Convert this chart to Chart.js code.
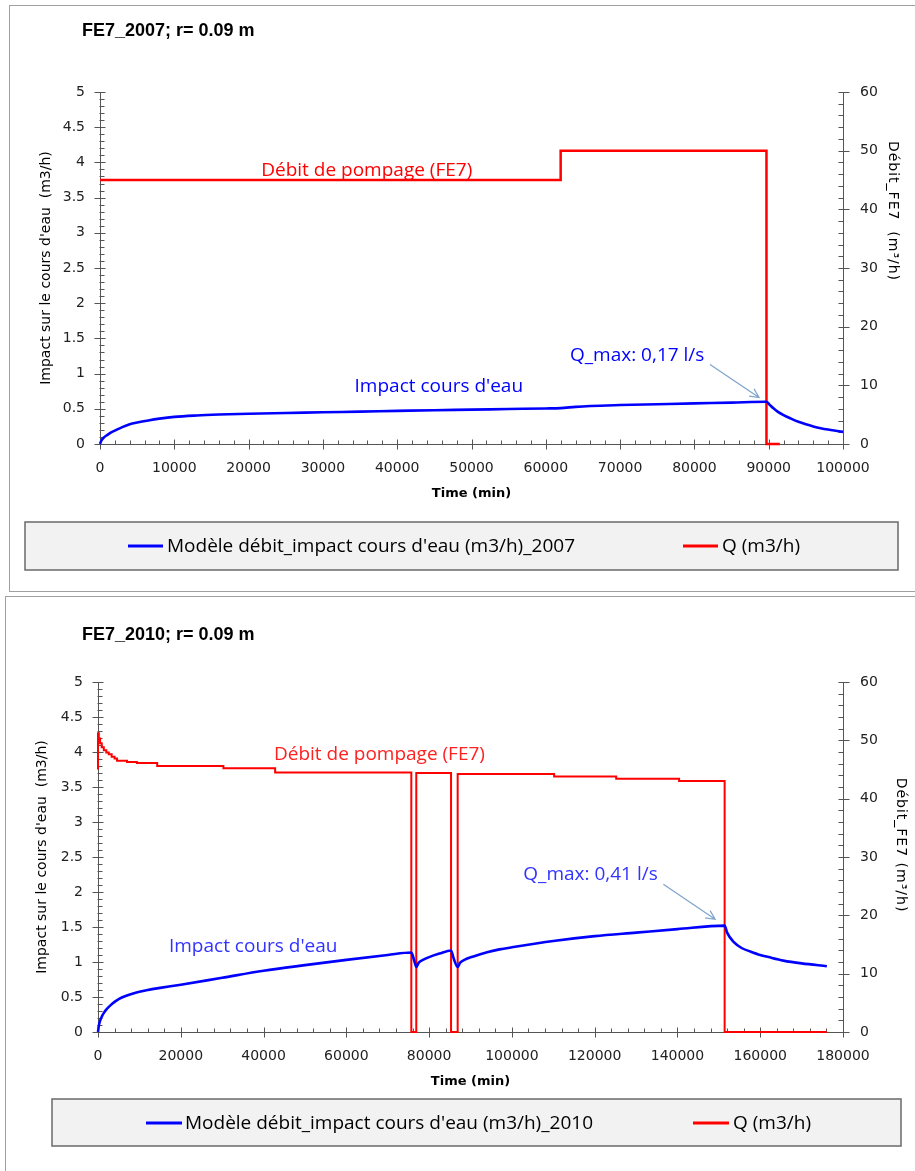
<!DOCTYPE html>
<html><head><meta charset="utf-8">
<script src="https://cdn.jsdelivr.net/npm/chart.js@4.4.1/dist/chart.umd.min.js"></script>
<style>
html,body{margin:0;padding:0;background:#fff;width:915px;height:1171px;overflow:hidden;}
.frame{position:absolute;border:1px solid #a0a0a0;box-sizing:border-box;}
canvas{position:absolute;}
</style></head><body>
<div class="frame" style="left:9px;top:5px;width:930px;height:587px"></div>
<div class="frame" style="left:5px;top:596px;width:930px;height:620px"></div>
<canvas id="c1" width="905" height="583" style="left:10px;top:6px;width:905px;height:583px"></canvas>
<canvas id="c2" width="909" height="574" style="left:6px;top:597px;width:909px;height:574px"></canvas>
<script>
// ---------- DATA ----------
const X_TICKS_2007 = [0,10000,20000,30000,40000,50000,60000,70000,80000,90000,100000];
const X_TICKS_2010 = [0,20000,40000,60000,80000,100000,120000,140000,160000,180000];
const Y_LEFT_TICKS = [0,0.5,1,1.5,2,2.5,3,3.5,4,4.5,5];
const Y_RIGHT_TICKS = [0,10,20,30,40,50,60];

// 2007 - impact (m3/h)
const T07_IMPACT = [0,200,500,1000,1500,2000,3000,4000,5000,6500,8000,10000,13000,16000,20000,25000,30000,35000,40000,45000,50000,55000,60000,62000,64000,66000,70000,75000,80000,85000,89700,90100,90600,91200,92000,93000,94000,95000,96000,97000,98000,99000,100000];
const V07_IMPACT = [0,0.05,0.09,0.13,0.165,0.19,0.24,0.28,0.305,0.335,0.36,0.385,0.405,0.418,0.43,0.44,0.45,0.46,0.47,0.48,0.488,0.497,0.505,0.51,0.528,0.54,0.553,0.565,0.577,0.588,0.6,0.56,0.51,0.46,0.41,0.36,0.315,0.28,0.25,0.225,0.205,0.188,0.172];
// 2007 - Q (m3/h), value holds from each time until the next
const T07_Q = [0,62000,89700,91500];
const V07_Q = [45,50,0,0];

// 2010 - impact (m3/h)
const T10_IMPACT = [0,200,500,1000,1500,2000,3000,4000,5000,6500,8500,10000,12000,15000,20000,30000,40000,50000,60000,70000,75700,76000,76400,76900,77500,78500,80000,82500,85300,85600,86000,86900,87500,88500,90700,94000,97000,100000,110000,120000,130000,140000,151400,152000,153500,155500,157600,160000,162000,165600,170000,176100];
const V10_IMPACT = [0,0.09,0.16,0.23,0.28,0.32,0.38,0.43,0.47,0.51,0.55,0.575,0.6,0.63,0.675,0.775,0.875,0.955,1.03,1.1,1.135,1.1,1.02,0.93,0.99,1.03,1.07,1.12,1.165,1.12,1.04,0.93,0.99,1.03,1.08,1.14,1.18,1.21,1.3,1.37,1.42,1.47,1.52,1.42,1.29,1.2,1.15,1.1,1.07,1.02,0.98,0.94];
// 2010 - Q (m3/h)
const T10_Q = [0,0,200,500,900,1400,2000,2600,3300,4000,4600,7000,9400,14300,30300,42800,75700,76900,85300,86900,110200,125200,140400,151400,176100];
const V10_Q = [45,51.2,50.3,49.5,48.8,48.3,47.9,47.6,47.2,46.9,46.5,46.3,46.1,45.6,45.2,44.5,0,44.4,0,44.25,43.8,43.4,43.05,0,0];

// ---------- STYLE ----------
const AXIS = '#555';
const TICK_FONT = {family:'DejaVu Sans', size:14};
const ANN_FONT = '19px "Open Sans"';

function pts(t, v){ return t.map((x,i)=>({x:x, y:v[i]})); }

function makeDecor(c){
  return {
    id:'decor',
    beforeDatasetsDraw(chart){
      const ctx = chart.ctx, s = chart.scales;
      ctx.save(); ctx.strokeStyle = AXIS; ctx.lineWidth = 1;
      ctx.beginPath();
      const ay = Math.round(s.x.top) + 0.5;
      for (let k = 0; k * c.xMinor <= c.xMax + 1e-6; k++){
        const v = k * c.xMinor;
        const px = Math.round(s.x.getPixelForValue(v)) + 0.5;
        if (k % c.xPer === 0){ ctx.moveTo(px, ay-5); ctx.lineTo(px, ay+5); }
        else { ctx.moveTo(px, ay-4); ctx.lineTo(px, ay); }
      }
      const lx = Math.round(s.y.right) - 0.5;
      for (let k = 0; k <= 50; k++){
        const py = Math.round(s.y.getPixelForValue(k * 0.1)) + 0.5;
        if (k % 5 === 0){ ctx.moveTo(lx-5, py); ctx.lineTo(lx+6, py); }
        else { ctx.moveTo(lx, py); ctx.lineTo(lx+5, py); }
      }
      const rx = Math.round(s.y2.left) + 0.5;
      for (let v = 0; v <= 60; v += 2){
        const py = Math.round(s.y2.getPixelForValue(v)) + 0.5;
        if (v % 10 === 0){ ctx.moveTo(rx-5, py); ctx.lineTo(rx+6, py); }
        else { ctx.moveTo(rx-5, py); ctx.lineTo(rx, py); }
      }
      ctx.stroke(); ctx.restore();
    },
    afterDraw(chart){
      const ctx = chart.ctx, s = chart.scales;
      ctx.save();
      ctx.font = 'bold 18px "Liberation Sans"'; ctx.fillStyle = '#000';
      ctx.textAlign = 'left'; ctx.textBaseline = 'alphabetic';
      ctx.fillText(c.title, c.titleX, c.titleY);
      ctx.save();
      ctx.translate(c.rtX, c.rtY); ctx.rotate(Math.PI/2);
      ctx.font = '14px "DejaVu Sans"'; ctx.fillStyle = '#000';
      try { ctx.letterSpacing = '1px'; } catch(e) {}
      ctx.textAlign = 'center'; ctx.textBaseline = 'middle';
      ctx.fillText(c.rightTitle, 0, 0);
      ctx.restore();
      ctx.font = ANN_FONT; ctx.textAlign = 'center'; ctx.textBaseline = 'alphabetic';
      c.ann.forEach(a => {
        ctx.fillStyle = a.color;
        ctx.fillText(a.text, s.x.getPixelForValue(a.x), s.y.getPixelForValue(a.y));
      });
      const a = c.arrow;
      const x1 = s.x.getPixelForValue(a.x1), y1 = s.y.getPixelForValue(a.y1);
      const x2 = s.x.getPixelForValue(a.x2), y2 = s.y.getPixelForValue(a.y2);
      const ang = Math.atan2(y2-y1, x2-x1);
      ctx.strokeStyle = '#7ea3cc'; ctx.lineWidth = 1.2;
      ctx.beginPath(); ctx.moveTo(x1,y1); ctx.lineTo(x2,y2);
      ctx.moveTo(x2 - 10*Math.cos(ang-0.45), y2 - 10*Math.sin(ang-0.45));
      ctx.lineTo(x2,y2);
      ctx.lineTo(x2 - 10*Math.cos(ang+0.45), y2 - 10*Math.sin(ang+0.45));
      ctx.stroke();
      const L = c.legend;
      ctx.fillStyle = '#f2f2f2'; ctx.fillRect(L.x, L.y, L.w, L.h);
      ctx.strokeStyle = '#6a6a6a'; ctx.lineWidth = 1.5; ctx.strokeRect(L.x, L.y, L.w, L.h);
      ctx.font = ANN_FONT; ctx.textAlign = 'left'; ctx.textBaseline = 'middle';
      chart.data.datasets.forEach((d,i) => {
        const it = L.items[i];
        ctx.strokeStyle = d.borderColor; ctx.lineWidth = 3;
        ctx.beginPath(); ctx.moveTo(it.x1, L.cy); ctx.lineTo(it.x2, L.cy); ctx.stroke();
        ctx.fillStyle = '#000';
        ctx.fillText(d.label, it.tx, L.cy + 1);
      });
      ctx.restore();
    }
  };
}

function makeChart(id, c){
  const fmt = v => String(v);
  return new Chart(document.getElementById(id), {
    type:'line',
    data:{datasets:[
      {label:c.blueLabel, data:pts(c.tI, c.vI), borderColor:'#0000ff', borderWidth:2.6, pointRadius:0, yAxisID:'y', clip:4, cubicInterpolationMode:'monotone'},
      {label:'Q (m3/h)', data:pts(c.tQ, c.vQ), borderColor:'#ff0000', borderWidth:c.redW, pointRadius:0, yAxisID:'y2', stepped:'before', clip:4}
    ]},
    options:{
      responsive:false, animation:false, events:[],
      layout:{padding:{left:0, right:0, top:c.T, bottom:c.B}},
      plugins:{legend:{display:false}, tooltip:{enabled:false}},
      scales:{
        x:{type:'linear', position:'bottom', min:0, max:c.xMax,
           afterBuildTicks:s => { s.ticks = c.xTicks.map(v => ({value:v})); },
           ticks:{callback:fmt, font:TICK_FONT, color:'#222', padding:16, maxRotation:0, autoSkip:false},
           grid:{display:true, drawOnChartArea:false, drawTicks:false},
           border:{display:true, color:AXIS, width:1},
           title:{display:true, text:'Time (min)', color:'#000', font:{family:'DejaVu Sans', size:13, weight:'bold'}, padding:{top:0,bottom:3}},
           afterFit:s => { s.height = 60; }},
        y:{type:'linear', position:'left', min:0, max:5,
           afterBuildTicks:s => { s.ticks = Y_LEFT_TICKS.map(v => ({value:v})); },
           ticks:{callback:fmt, font:TICK_FONT, color:'#222', padding:15, autoSkip:false},
           grid:{display:true, drawOnChartArea:false, drawTicks:false},
           border:{display:true, color:AXIS, width:1},
           title:{display:true, text:c.leftTitle, color:'#000', font:{family:'DejaVu Sans', size:14}, padding:{top:28,bottom:0}},
           afterFit:s => { s.width = c.L; }},
        y2:{type:'linear', position:'right', min:0, max:60,
           afterBuildTicks:s => { s.ticks = Y_RIGHT_TICKS.map(v => ({value:v})); },
           ticks:{callback:fmt, font:TICK_FONT, color:'#222', padding:17, autoSkip:false},
           grid:{display:true, drawOnChartArea:false, drawTicks:false},
           border:{display:true, color:AXIS, width:1},
           afterFit:s => { s.width = c.R; }}
      }
    },
    plugins:[makeDecor(c)]
  });
}

makeChart('c1', {
  tI:T07_IMPACT, vI:V07_IMPACT, tQ:T07_Q, vQ:V07_Q, redW:2.5,
  blueLabel:"Modèle débit_impact cours d'eau (m3/h)_2007",
  xMax:100000, xTicks:X_TICKS_2007, xMinor:2000, xPer:5,
  L:90, R:72, T:86, B:85,
  title:'FE7_2007; r= 0.09 m', titleX:72, titleY:30,
  leftTitle:"Impact sur le cours d'eau  (m3/h)",
  rightTitle:'Débit_FE7  (m³/h)', rtX:883, rtY:205,
  ann:[
    {text:'Débit de pompage (FE7)', x:35900, y:3.81, color:'#ff0000'},
    {text:"Impact cours d'eau", x:45600, y:0.74, color:'#0000ff'},
    {text:'Q_max: 0,17 l/s', x:72300, y:1.18, color:'#0000ff'}
  ],
  arrow:{x1:82100, y1:1.13, x2:88700, y2:0.66},
  legend:{x:15, y:516, w:873, h:48, cy:540, items:[{x1:118,x2:153,tx:157},{x1:673,x2:708,tx:712}]}
});

makeChart('c2', {
  tI:T10_IMPACT, vI:V10_IMPACT, tQ:T10_Q, vQ:V10_Q, redW:2,
  blueLabel:"Modèle débit_impact cours d'eau (m3/h)_2010",
  xMax:180000, xTicks:X_TICKS_2010, xMinor:4000, xPer:5,
  L:92, R:72, T:85, B:79,
  title:'FE7_2010; r= 0.09 m', titleX:76, titleY:43,
  leftTitle:"Impact sur le cours d'eau  (m3/h)",
  rightTitle:'Débit_FE7 (m³/h)', rtX:895, rtY:248,
  ann:[
    {text:'Débit de pompage (FE7)', x:68000, y:3.88, color:'#ff2020'},
    {text:"Impact cours d'eau", x:37500, y:1.14, color:'#3333ff'},
    {text:'Q_max: 0,41 l/s', x:119000, y:2.17, color:'#3333ff'}
  ],
  arrow:{x1:136600, y1:2.11, x2:149100, y2:1.61},
  legend:{x:46, y:502, w:849, h:47, cy:526, items:[{x1:140,x2:176,tx:179},{x1:687,x2:723,tx:727}]}
});
</script>
</body></html>
